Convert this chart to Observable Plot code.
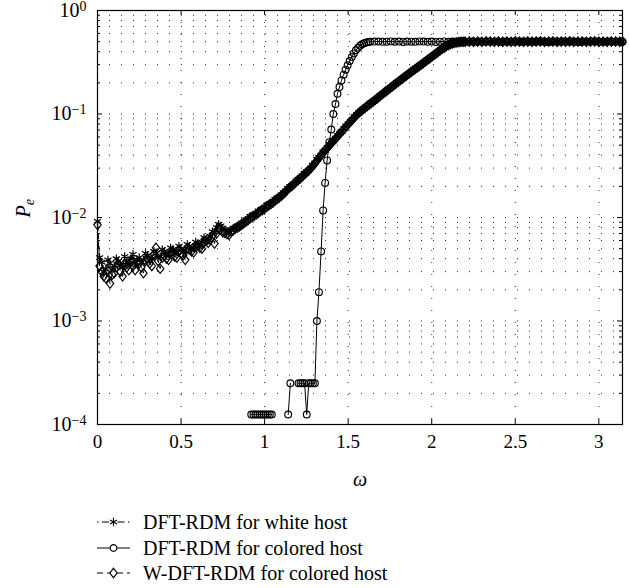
<!DOCTYPE html>
<html><head><meta charset="utf-8">
<script src="https://cdn.jsdelivr.net/npm/d3@7"></script>
<script src="https://cdn.jsdelivr.net/npm/@observablehq/plot@0.6"></script>
<style>
html,body{margin:0;padding:0;background:#fff;}
#chart svg,#legend svg{display:block;}
</style></head><body><div id="chart"></div><div id="legend"></div>
<script>
const FONT = '"Liberation Serif", "DejaVu Serif", serif';

// Tick values
const xTicks = [0, 0.5, 1, 1.5, 2, 2.5, 3];
const yMajor = [1e-4, 1e-3, 1e-2, 1e-1, 1];
const xDomain = [0, 3.1416];
const yDomain = [1e-4, 1];
const legendLabels = ["DFT-RDM for white host", "DFT-RDM for colored host", "W-DFT-RDM for colored host"];

// Shared omega grid for the white-host and W-DFT series
const omegaGrid = [
0,0.0125,0.025,0.0375,0.05,0.0625,0.075,0.0875,0.1,0.1125,0.125,0.1375,0.15,0.1625,0.175,0.1875,
0.2,0.2125,0.225,0.2375,0.25,0.2625,0.275,0.2875,0.3,0.3125,0.325,0.3375,0.35,0.3625,0.375,0.3875,
0.4,0.4125,0.425,0.4375,0.45,0.4625,0.475,0.4875,0.5,0.5125,0.525,0.5375,0.55,0.5625,0.575,0.5875,
0.6,0.6125,0.625,0.6375,0.65,0.6625,0.675,0.6875,0.7,0.7125,0.725,0.7375,0.75,0.7625,0.775,0.7875,
0.8,0.8125,0.825,0.8375,0.85,0.8625,0.875,0.8875,0.9,0.9125,0.925,0.9375,0.95,0.9625,0.975,0.9875,
1,1.0125,1.025,1.0375,1.05,1.0625,1.075,1.0875,1.1,1.1125,1.125,1.1375,1.15,1.1625,1.175,1.1875,
1.2,1.2125,1.225,1.2375,1.25,1.2625,1.275,1.2875,1.3,1.3125,1.325,1.3375,1.35,1.3625,1.375,1.3875,
1.4,1.4125,1.425,1.4375,1.45,1.4625,1.475,1.4875,1.5,1.5125,1.525,1.5375,1.55,1.5625,1.575,1.5875,
1.6,1.6125,1.625,1.6375,1.65,1.6625,1.675,1.6875,1.7,1.7125,1.725,1.7375,1.75,1.7625,1.775,1.7875,
1.8,1.8125,1.825,1.8375,1.85,1.8625,1.875,1.8875,1.9,1.9125,1.925,1.9375,1.95,1.9625,1.975,1.9875,
2,2.0125,2.025,2.0375,2.05,2.0625,2.075,2.0875,2.1,2.1125,2.125,2.1375,2.15,2.1625,2.175,2.1875,
2.2,2.225,2.25,2.275,2.3,2.325,2.35,2.375,2.4,2.425,2.45,2.475,2.5,2.525,2.55,2.575,
2.6,2.625,2.65,2.675,2.7,2.725,2.75,2.775,2.8,2.825,2.85,2.875,2.9,2.925,2.95,2.975,
3,3.025,3.05,3.075,3.1,3.125,3.1416];

const peWhite = [
0.0092,0.0041,0.0037,0.0030,0.0032,0.0039,0.0036,0.0031,0.0034,0.0040,0.0038,0.0035,0.0033,0.0042,0.0037,0.0035,
0.0040,0.0044,0.0036,0.0039,0.0041,0.0037,0.0039,0.0045,0.0043,0.0038,0.0040,0.0047,0.0045,0.0041,0.0042,0.0049,
0.0047,0.0043,0.0044,0.0051,0.0049,0.0045,0.0046,0.0053,0.0050,0.0046,0.0048,0.0055,0.0053,0.0049,0.0051,0.0058,
0.0056,0.0053,0.0058,0.0064,0.0062,0.0060,0.0066,0.0073,0.0072,0.0080,0.0086,0.0083,0.0079,0.0076,0.0074,0.0071,
0.0076,0.0079,0.0080,0.0083,0.0085,0.0089,0.0091,0.0095,0.0097,0.0103,0.0104,0.0106,0.0110,0.0116,0.0118,0.0121,
0.0126,0.0132,0.0134,0.0138,0.0143,0.0150,0.0154,0.0158,0.0166,0.0174,0.0180,0.0191,0.0198,0.0203,0.0213,0.0226,
0.0233,0.0240,0.0252,0.0268,0.0276,0.0285,0.0301,0.0322,0.0336,0.0366,0.0382,0.0401,0.0432,0.0448,0.0475,0.0506,
0.0528,0.0551,0.0585,0.0623,0.0650,0.0680,0.0722,0.0770,0.0805,0.0840,0.0890,0.0945,0.0985,0.1025,0.1070,0.1118,
0.1150,0.1190,0.1240,0.1295,0.1330,0.1375,0.1430,0.1495,0.1540,0.1592,0.1660,0.1732,0.1780,0.1842,0.1920,0.2003,
0.2060,0.2128,0.2210,0.2302,0.2370,0.2448,0.2540,0.2643,0.2720,0.2808,0.2910,0.3028,0.3120,0.3222,0.3340,0.3472,
0.3580,0.3702,0.3840,0.3992,0.4120,0.4252,0.4400,0.4538,0.4640,0.4735,0.4820,0.4885,0.4930,0.4962,0.4980,0.4995,
0.501,0.497,0.503,0.499,0.502,0.498,0.500,0.504,0.499,0.501,0.497,0.502,0.500,0.503,0.498,0.501,
0.499,0.502,0.497,0.500,0.503,0.499,0.501,0.498,0.502,0.500,0.497,0.503,0.499,0.501,0.500,0.498,
0.502,0.499,0.503,0.500,0.497,0.501,0.502];

const peW = [
0.0085,0.0034,0.0030,0.0027,0.0026,0.0031,0.0023,0.0028,0.0029,0.0033,0.0035,0.0030,0.0027,0.0036,0.0033,0.0031,
0.0038,0.0034,0.0031,0.0037,0.0036,0.0033,0.0029,0.0038,0.0040,0.0036,0.0034,0.0044,0.0051,0.0038,0.0032,0.0041,
0.0043,0.0040,0.0039,0.0046,0.0047,0.0042,0.0041,0.0048,0.0045,0.0043,0.0039,0.0050,0.0049,0.0047,0.0046,0.0052,
0.0054,0.0051,0.0050,0.0058,0.0059,0.0057,0.0061,0.0066,0.0056,0.0070,0.0078,0.0077,0.0072,0.0071,0.0069,0.0068,
0.0073,0.0075,0.0078,0.0080,0.0082,0.0085,0.0088,0.0091,0.0094,0.0098,0.0101,0.0104,0.0107,0.0111,0.0115,0.0118,
0.0122,0.0127,0.0131,0.0135,0.0139,0.0146,0.0151,0.0156,0.0162,0.0169,0.0176,0.0186,0.0194,0.0201,0.0210,0.0220,
0.0229,0.0238,0.0249,0.0261,0.0272,0.0283,0.0297,0.0313,0.0331,0.0354,0.0376,0.0399,0.0426,0.0447,0.0470,0.0495,
0.0522,0.0550,0.0579,0.0610,0.0643,0.0678,0.0716,0.0755,0.0797,0.0838,0.0882,0.0928,0.0975,0.1020,0.1060,0.1100,
0.1140,0.1185,0.1230,0.1275,0.1320,0.1370,0.1420,0.1475,0.1530,0.1590,0.1650,0.1710,0.1770,0.1840,0.1910,0.1980,
0.2050,0.2125,0.2200,0.2280,0.2360,0.2445,0.2530,0.2620,0.2710,0.2805,0.2900,0.3005,0.3110,0.3220,0.3330,0.3450,
0.3570,0.3700,0.3830,0.3970,0.4110,0.4250,0.4390,0.4520,0.4630,0.4730,0.4810,0.4870,0.4920,0.4950,0.4970,0.4985,
0.499,0.502,0.498,0.501,0.497,0.503,0.500,0.498,0.502,0.499,0.501,0.498,0.503,0.500,0.497,0.502,
0.499,0.501,0.503,0.498,0.500,0.502,0.497,0.501,0.499,0.503,0.498,0.500,0.502,0.497,0.501,0.503,
0.499,0.500,0.498,0.502,0.501,0.499,0.500];

// Colored host (0 = no errors observed, not drawn on the log axis)
const omegaColored = [0.920,0.933,0.945,0.957,0.970,0.982,0.994,1.006,1.019,1.031,1.043,1.055,
1.129,1.141,1.154,1.166,
1.190,1.203,1.215,1.227,1.239,1.252,1.264,1.276,1.289,1.301,
1.313,1.325,1.338,1.350,1.362,1.374,1.387,1.399,1.411,1.424,
1.436,1.448,1.460,1.473,1.485,1.497,1.509,1.522,1.534,1.546,
1.559,1.571,1.583,1.595,1.608,1.620,
1.632,1.657,1.681,1.706,1.730,1.755,1.779,1.804,1.829,1.853,
1.878,1.902,1.927,1.951,1.976,2.000,2.025,2.049,2.074,2.099,
2.123,2.148,2.172,2.197,2.221,2.246,2.270,2.295,2.319,2.344,
2.369,2.393,2.418,2.442,2.467,2.491,2.516,2.540,2.565,2.589,
2.614,2.638,2.663,2.688,2.712,2.737,2.761,2.786,2.810,2.835,
2.859,2.884,2.909,2.933,2.958,2.982,3.007,3.031,3.056,3.080,
3.105,3.129,3.1416];

const peColored = [1.25e-4,1.25e-4,1.25e-4,1.25e-4,1.25e-4,1.25e-4,1.25e-4,1.25e-4,1.25e-4,1.25e-4,1.25e-4,0,
0,1.25e-4,2.5e-4,0,
0,2.5e-4,2.5e-4,2.5e-4,2.5e-4,1.25e-4,2.5e-4,2.5e-4,2.5e-4,2.5e-4,
1.0e-3,1.9e-3,4.7e-3,0.0117,0.0216,0.0356,0.0534,0.0708,0.100,0.125,
0.157,0.182,0.211,0.240,0.268,0.296,0.325,0.355,0.385,0.413,
0.437,0.457,0.472,0.483,0.491,0.496,
0.499,0.501,0.502,0.498,0.500,0.503,0.499,0.501,0.497,0.502,
0.500,0.498,0.503,0.501,0.499,0.502,0.497,0.500,0.503,0.498,
0.501,0.499,0.502,0.500,0.497,0.503,0.498,0.501,0.500,0.502,
0.499,0.503,0.497,0.501,0.500,0.498,0.502,0.499,0.503,0.500,
0.498,0.501,0.502,0.497,0.500,0.503,0.499,0.501,0.498,0.502,
0.500,0.497,0.503,0.499,0.501,0.502,0.498,0.500,0.503,0.499,
0.501,0.498,0.500];

const white = omegaGrid.map((w, i) => ({w, pe: peWhite[i]}));
const wdft = omegaGrid.map((w, i) => ({w, pe: peW[i]}));
const colored = omegaColored.map((w, i) => ({w, pe: peColored[i]}));
const yOf = d => d.pe > 0 ? d.pe : NaN;

const yMinor = d3.scaleLog().domain(yDomain).ticks().filter(d => !yMajor.some(m => Math.abs(m - d) / m < 1e-6));
const yGrid = d3.scaleLog().domain(yDomain).ticks().filter(d => d > yDomain[0] * 1.0001 && d < yDomain[1] * 0.9999);

const diamondSym = {
  draw(ctx, size) {
    const h = Math.sqrt(size) * 0.72, w = h * 0.78;
    ctx.moveTo(0, -h); ctx.lineTo(w, 0); ctx.lineTo(0, h); ctx.lineTo(-w, 0); ctx.closePath();
  }
};

const W = 629, H = 500, mL = 97, mR = 7, mT = 10, mB = 76;
const fw = W - mL - mR, fh = H - mT - mB;

const chart = Plot.plot({
  width: W, height: H,
  marginLeft: mL, marginRight: mR, marginTop: mT, marginBottom: mB,
  style: {fontFamily: FONT, fontSize: "19px", color: "#000", background: "#fff"},
  x: {domain: xDomain, label: null},
  y: {type: "log", domain: yDomain, label: null},
  marks: [
    Plot.gridX(xTicks.filter(d => d > 0), {stroke: "#000", strokeOpacity: 0.85, strokeDasharray: "1,11"}),
    Plot.gridY(yGrid, {stroke: "#000", strokeOpacity: 0.85, strokeDasharray: "1,11"}),
    // DFT-RDM for white host
    Plot.line(white, {x: "w", y: yOf, stroke: "#000", strokeWidth: 1, strokeDasharray: "5,3,1.5,3"}),
    Plot.dot(white.filter(d => d.pe > 0), {x: "w", y: "pe", symbol: "asterisk", r: 3.9, stroke: "#000", strokeWidth: 1.2}),
    // DFT-RDM for colored host
    Plot.line(colored, {x: "w", y: yOf, stroke: "#000", strokeWidth: 1}),
    Plot.dot(colored.filter(d => d.pe > 0), {x: "w", y: "pe", symbol: "circle", r: 3.4, stroke: "#000", fill: "none", strokeWidth: 1.15}),
    // W-DFT-RDM for colored host
    Plot.line(wdft, {x: "w", y: yOf, stroke: "#000", strokeWidth: 1, strokeDasharray: "5,4"}),
    Plot.dot(wdft.filter(d => d.pe > 0), {x: "w", y: "pe", symbol: diamondSym, r: 3.7, stroke: "#000", fill: "none", strokeWidth: 1.15}),
    // inward ticks
    Plot.ruleX(xTicks, {insetTop: fh - 5, stroke: "#000"}),
    Plot.ruleX(xTicks, {insetBottom: fh - 5, stroke: "#000"}),
    Plot.ruleY(yMajor, {insetRight: fw - 5, stroke: "#000"}),
    Plot.ruleY(yMajor, {insetLeft: fw - 5, stroke: "#000"}),
    Plot.ruleY(yMinor, {insetRight: fw - 3, stroke: "#000"}),
    Plot.ruleY(yMinor, {insetLeft: fw - 3, stroke: "#000"}),
    Plot.frame({stroke: "#000", strokeWidth: 1.2}),
    Plot.axisX(xTicks, {tickSize: 0, tickPadding: 10, fontSize: 19, tickFormat: d => String(d), label: null}),
    Plot.axisY(yMajor, {tickSize: 0, tickPadding: 11, fontSize: 20, tickFormat: d => String(Math.round(Math.log10(d))), label: null}),
    Plot.text(["ω"], {frameAnchor: "bottom", dy: 61, fontSize: 20, fontStyle: "italic"}),
    Plot.text(["P"], {frameAnchor: "left", dx: -74, rotate: -90, fontSize: 20, fontStyle: "italic"})
  ]
});
document.getElementById("chart").appendChild(chart);

const NS = "http://www.w3.org/2000/svg";
// superscript exponents on y tick labels
chart.querySelectorAll('g[aria-label="y-axis tick label"] text').forEach(t => {
  const e = +t.textContent;
  t.textContent = "";
  const a = document.createElementNS(NS, "tspan"); a.textContent = "10"; t.appendChild(a);
  const b = document.createElementNS(NS, "tspan");
  b.setAttribute("dy", "-0.45em"); b.setAttribute("font-size", "14");
  b.textContent = e < 0 ? "\u2212" + Math.abs(e) : String(e);
  t.appendChild(b);
});
// subscript e on P
chart.querySelectorAll("text").forEach(t => {
  if (t.textContent === "P") {
    const s = document.createElementNS(NS, "tspan");
    s.setAttribute("dy", "0.3em"); s.setAttribute("font-size", "14");
    s.textContent = "e";
    t.appendChild(s);
  }
});

// Legend below the plot
const leg = d3.select("#legend").append("svg").attr("width", W).attr("height", 88)
  .style("font-family", FONT);
const rows = [
  {dash: "1.5,3.5,7,3.5", sym: d3.symbolAsterisk, size: Math.PI * 3.9 * 3.9},
  {dash: null, sym: d3.symbolCircle, size: Math.PI * 3.4 * 3.4},
  {dash: "6,4", sym: diamondSym, size: Math.PI * 3.7 * 3.7}
];
const rowY = [22, 48, 73];
rows.forEach((r, i) => {
  const g = leg.append("g").attr("transform", `translate(0,${rowY[i]})`);
  g.append("line").attr("x1", 97).attr("x2", 130).attr("y1", 0).attr("y2", 0)
    .attr("stroke", "#000").attr("stroke-width", 1.1).attr("stroke-dasharray", r.dash);
  g.append("path").attr("transform", "translate(113.5,0)")
    .attr("d", d3.symbol(r.sym, r.size)()).attr("fill", r.sym === d3.symbolAsterisk ? "none" : "#fff")
    .attr("stroke", "#000").attr("stroke-width", 1.15);
  g.append("text").attr("x", 143).attr("y", 0).attr("dy", "0.35em")
    .attr("font-size", 20).attr("fill", "#000").text(legendLabels[i]);
});
</script></body></html>
